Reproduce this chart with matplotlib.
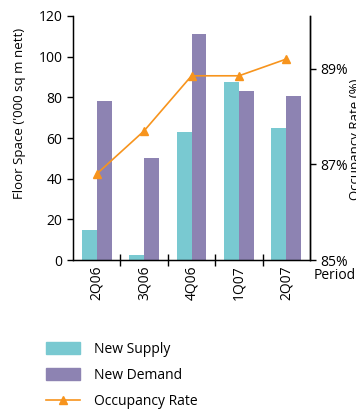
import numpy as np
import matplotlib
matplotlib.use('Agg')
import matplotlib.pyplot as plt
from matplotlib.patches import Patch
from matplotlib.lines import Line2D

plt.rcParams['font.family'] = ['Open Sans', 'DejaVu Sans']

periods = ['2Q06', '3Q06', '4Q06', '1Q07', '2Q07']
new_supply = [15, 2.5, 63, 87.5, 65]
new_demand = [78, 50, 111, 83, 80.5]
occupancy = [86.8, 87.7, 88.85, 88.85, 89.2]

SUPPLY_C = '#79C9D1'
DEMAND_C = '#8D83B2'
OCC_C = '#F7941D'

fig = plt.figure(figsize=(3.56, 4.09), dpi=100)
ax = fig.add_axes([0.205, 0.364, 0.666, 0.597])

x = np.arange(len(periods))
w = 0.315
ax.bar(x - w/2, new_supply, w, color=SUPPLY_C)
ax.bar(x + w/2, new_demand, w, color=DEMAND_C)

ax.set_xlim(-0.5, len(periods) - 0.5)
ax.set_ylim(0, 120)
ax.set_yticks(range(0, 121, 20))
ax.set_xticks(x)
ax.set_xticklabels(periods, rotation=90, fontsize=10)
ax.set_xticks(np.arange(0.5, len(periods) - 0.5, 1), minor=True)
ax.tick_params(axis='x', which='major', length=0, pad=4)
ax.tick_params(axis='x', which='minor', direction='inout', length=9, width=1)
ax.tick_params(axis='y', labelsize=10, length=4, width=1)
ax.spines['top'].set_visible(False)
for s in ['left', 'bottom', 'right']:
    ax.spines[s].set_linewidth(1)
ax.set_ylabel("Floor Space ('000 sq m nett)", fontsize=9.5)
ax.yaxis.set_label_coords(-0.2, 0.6)

ax2 = ax.twinx()
ax2.plot(x, occupancy, color=OCC_C, lw=1.2, marker='^', markersize=6)
ax2.set_ylim(85, 90.1)
ax2.set_yticks([85, 87, 89])
ax2.set_yticklabels(['85%', '87%', '89%'])
ax2.tick_params(axis='y', labelsize=10, length=4, width=1)
ax2.spines['top'].set_visible(False)
ax2.spines['right'].set_linewidth(1)

fig.text(0.88, 0.326, 'Period', fontsize=10, ha='left', va='center')
fig.text(1.0, 0.66, 'Occupancy Rate (%)', fontsize=9.5, rotation=90,
         ha='center', va='center')

handles = [Patch(color=SUPPLY_C), Patch(color=DEMAND_C),
           Line2D([], [], color=OCC_C, lw=1.2, marker='^', markersize=6)]
fig.legend(handles, ['New Supply', 'New Demand', 'Occupancy Rate'],
           loc='upper left', bbox_to_anchor=(0.113, 0.178), frameon=False,
           fontsize=10, handlelength=2.45, handleheight=0.9,
           handletextpad=1.0, labelspacing=0.8, borderaxespad=0)

fig.savefig('out.png', dpi=100)
